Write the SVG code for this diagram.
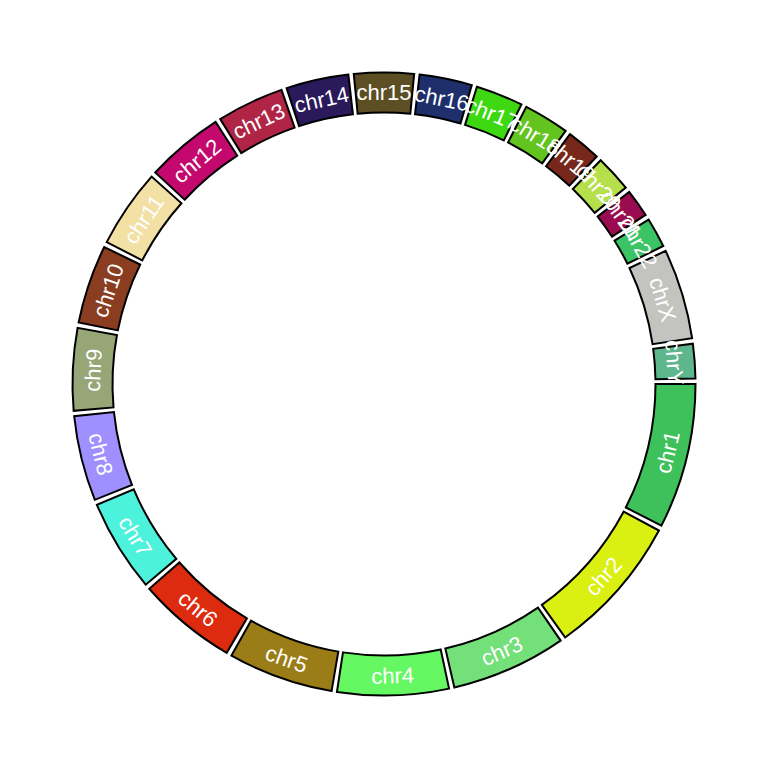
<svg xmlns="http://www.w3.org/2000/svg" width="768" height="768" viewBox="0 0 768 768">
<style>
.band{stroke:#000;stroke-width:2;stroke-linejoin:miter}
.lab{font-family:"Liberation Sans",Arial,sans-serif;font-size:22px;fill:#fff;text-anchor:middle}
</style>
<rect width="768" height="768" fill="#fff"/>
<g id="ideogram" transform="translate(384 384)">
<g id="chr1"><path class="band" fill="#3EC15A" transform="rotate(0)" d="M311.5 0A311.5 311.5 0 0 1 277.42 141.67L241.8 123.48A271.5 271.5 0 0 0 271.5 0Z"/></g>
<g id="chr2"><path class="band" fill="#DAF012" transform="rotate(28.053)" d="M311.5 0A311.5 311.5 0 0 1 279.02 138.49L243.19 120.71A271.5 271.5 0 0 0 271.5 0Z"/></g>
<g id="chr3"><path class="band" fill="#74E07A" transform="rotate(55.450)" d="M311.5 0A311.5 311.5 0 0 1 289.84 114.13L252.62 99.47A271.5 271.5 0 0 0 271.5 0Z"/></g>
<g id="chr4"><path class="band" fill="#66F863" transform="rotate(77.943)" d="M311.5 0A311.5 311.5 0 0 1 291.3 110.35L253.89 96.18A271.5 271.5 0 0 0 271.5 0Z"/></g>
<g id="chr5"><path class="band" fill="#9A7D17" transform="rotate(99.690)" d="M311.5 0A311.5 311.5 0 0 1 293.39 104.68L255.71 91.24A271.5 271.5 0 0 0 271.5 0Z"/></g>
<g id="chr6"><path class="band" fill="#DD2B10" transform="rotate(120.327)" d="M311.5 0A311.5 311.5 0 0 1 295.28 99.22L257.36 86.48A271.5 271.5 0 0 0 271.5 0Z"/></g>
<g id="chr7"><path class="band" fill="#4DF2DC" transform="rotate(139.899)" d="M311.5 0A311.5 311.5 0 0 1 297.45 92.49L259.26 80.61A271.5 271.5 0 0 0 271.5 0Z"/></g>
<g id="chr8"><path class="band" fill="#A08FFF" transform="rotate(158.172)" d="M311.5 0A311.5 311.5 0 0 1 299.6 85.27L261.13 74.32A271.5 271.5 0 0 0 271.5 0Z"/></g>
<g id="chr9"><path class="band" fill="#97A677" transform="rotate(175.058)" d="M311.5 0A311.5 311.5 0 0 1 300.42 82.34L261.85 71.77A271.5 271.5 0 0 0 271.5 0Z"/></g>
<g id="chr10"><path class="band" fill="#8A3D20" transform="rotate(191.385)" d="M311.5 0A311.5 311.5 0 0 1 301.29 79.1L262.6 68.94A271.5 271.5 0 0 0 271.5 0Z"/></g>
<g id="chr11"><path class="band" fill="#F2E0A5" transform="rotate(207.096)" d="M311.5 0A311.5 311.5 0 0 1 301.37 78.8L262.67 68.68A271.5 271.5 0 0 0 271.5 0Z"/></g>
<g id="chr12"><path class="band" fill="#C4096E" transform="rotate(222.750)" d="M311.5 0A311.5 311.5 0 0 1 301.54 78.14L262.82 68.11A271.5 271.5 0 0 0 271.5 0Z"/></g>
<g id="chr13"><path class="band" fill="#B02545" transform="rotate(238.278)" d="M311.5 0A311.5 311.5 0 0 1 304.12 67.43L265.07 58.77A271.5 271.5 0 0 0 271.5 0Z"/></g>
<g id="chr14"><path class="band" fill="#2B1A5B" transform="rotate(251.778)" d="M311.5 0A311.5 311.5 0 0 1 305.08 62.91L265.91 54.83A271.5 271.5 0 0 0 271.5 0Z"/></g>
<g id="chr15"><path class="band" fill="#5C4F24" transform="rotate(264.430)" d="M311.5 0A311.5 311.5 0 0 1 305.64 60.13L266.4 52.41A271.5 271.5 0 0 0 271.5 0Z"/></g>
<g id="chr16"><path class="band" fill="#1F2F6B" transform="rotate(276.559)" d="M311.5 0A311.5 311.5 0 0 1 306.95 53.06L267.53 46.25A271.5 271.5 0 0 0 271.5 0Z"/></g>
<g id="chr17"><path class="band" fill="#3ED812" transform="rotate(287.366)" d="M311.5 0A311.5 311.5 0 0 1 307.83 47.72L268.3 41.6A271.5 271.5 0 0 0 271.5 0Z"/></g>
<g id="chr18"><path class="band" fill="#64C41F" transform="rotate(297.179)" d="M311.5 0A311.5 311.5 0 0 1 308.1 45.91L268.54 40.01A271.5 271.5 0 0 0 271.5 0Z"/></g>
<g id="chr19"><path class="band" fill="#77281B" transform="rotate(306.653)" d="M311.5 0A311.5 311.5 0 0 1 309.55 34.82L269.8 30.35A271.5 271.5 0 0 0 271.5 0Z"/></g>
<g id="chr20"><path class="band" fill="#B5E04C" transform="rotate(314.071)" d="M311.5 0A311.5 311.5 0 0 1 309.29 37.11L269.57 32.34A271.5 271.5 0 0 0 271.5 0Z"/></g>
<g id="chr21"><path class="band" fill="#990C50" transform="rotate(321.912)" d="M311.5 0A311.5 311.5 0 0 1 310.21 28.36L270.37 24.72A271.5 271.5 0 0 0 271.5 0Z"/></g>
<g id="chr22"><path class="band" fill="#3BC466" transform="rotate(328.136)" d="M311.5 0A311.5 311.5 0 0 1 310.03 30.23L270.22 26.35A271.5 271.5 0 0 0 271.5 0Z"/></g>
<g id="chrX"><path class="band" fill="#C3C3BF" transform="rotate(334.704)" d="M311.5 0A311.5 311.5 0 0 1 298.12 90.31L259.84 78.71A271.5 271.5 0 0 0 271.5 0Z"/></g>
<g id="chrY"><path class="band" fill="#5EB68C" transform="rotate(352.557)" d="M311.5 0A311.5 311.5 0 0 1 309.53 34.96L269.78 30.47A271.5 271.5 0 0 0 271.5 0Z"/></g>
</g>
<g id="labels" class="lab" transform="translate(384 384)">
<text transform="rotate(13.527) translate(291.5 0) rotate(-90)" dy="0.36em">chr1</text>
<text transform="rotate(41.251) translate(291.5 0) rotate(-90)" dy="0.36em">chr2</text>
<text transform="rotate(66.197) translate(291.5 0) rotate(-90)" dy="0.36em">chr3</text>
<text transform="rotate(88.317) translate(291.5 0) rotate(-90)" dy="0.36em">chr4</text>
<text transform="rotate(109.508) translate(291.5 0) rotate(-90)" dy="0.36em">chr5</text>
<text transform="rotate(129.613) translate(291.5 0) rotate(-90)" dy="0.36em">chr6</text>
<text transform="rotate(148.536) translate(291.5 0) rotate(-90)" dy="0.36em">chr7</text>
<text transform="rotate(166.115) translate(291.5 0) rotate(-90)" dy="0.36em">chr8</text>
<text transform="rotate(182.722) translate(291.5 0) rotate(90)" dy="0.36em">chr9</text>
<text transform="rotate(198.741) translate(291.5 0) rotate(90)" dy="0.36em">chr10</text>
<text transform="rotate(214.423) translate(291.5 0) rotate(90)" dy="0.36em">chr11</text>
<text transform="rotate(230.014) translate(291.5 0) rotate(90)" dy="0.36em">chr12</text>
<text transform="rotate(244.529) translate(291.5 0) rotate(90)" dy="0.36em">chr13</text>
<text transform="rotate(257.604) translate(291.5 0) rotate(90)" dy="0.36em">chr14</text>
<text transform="rotate(269.995) translate(291.5 0) rotate(90)" dy="0.36em">chr15</text>
<text transform="rotate(281.463) translate(291.5 0) rotate(90)" dy="0.36em">chr16</text>
<text transform="rotate(291.773) translate(291.5 0) rotate(90)" dy="0.36em">chr17</text>
<text transform="rotate(301.416) translate(291.5 0) rotate(90)" dy="0.36em">chr18</text>
<text transform="rotate(309.862) translate(291.5 0) rotate(90)" dy="0.36em">chr19</text>
<text transform="rotate(317.492) translate(291.5 0) rotate(90)" dy="0.36em">chr20</text>
<text transform="rotate(324.524) translate(291.5 0) rotate(90)" dy="0.36em">chr21</text>
<text transform="rotate(330.920) translate(291.5 0) rotate(90)" dy="0.36em">chr22</text>
<text transform="rotate(343.131) translate(291.5 0) rotate(90)" dy="0.36em">chrX</text>
<text transform="rotate(355.779) translate(291.5 0) rotate(90)" dy="0.36em">chrY</text>
</g>
</svg>
